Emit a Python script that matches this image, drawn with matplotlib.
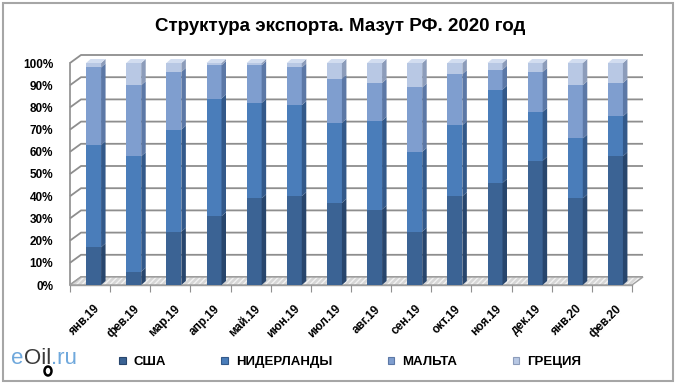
import matplotlib
matplotlib.use('Agg')
import matplotlib.pyplot as plt
import numpy as np
from matplotlib.patches import Polygon, Rectangle, Ellipse

# ---- data ----
categories = ['янв.19', 'фев.19', 'мар.19', 'апр.19', 'май.19', 'июн.19', 'июл.19',
              'авг.19', 'сен.19', 'окт.19', 'ноя.19', 'дек.19', 'янв.20', 'фев.20']
usa = [17, 6, 24, 31, 39, 40, 37, 34, 24, 40, 46, 56, 39, 58]
nld = [46, 52, 46, 53, 43, 41, 36, 40, 36, 32, 42, 22, 27, 18]
mlt = [35, 32, 26, 15, 17, 17, 20, 17, 29, 23, 9, 18, 24, 15]
grc = [2, 10, 4, 1, 1, 2, 7, 9, 11, 5, 3, 4, 10, 9]
series_names = ['США', 'НИДЕРЛАНДЫ', 'МАЛЬТА', 'ГРЕЦИЯ']
yticks = [0, 10, 20, 30, 40, 50, 60, 70, 80, 90, 100]
title = 'Структура экспорта. Мазут РФ. 2020 год'

# ---- style ----
FONT = ['Liberation Sans Narrow', 'Liberation Sans', 'DejaVu Sans']
plt.rcParams['font.family'] = FONT
front = ['#3B6394', '#4A7DBA', '#7F9ECF', '#B8C8E4']
side = ['#28466D', '#33598A', '#5C78A6', '#8C9CBA']
topc = ['#5A7FAE', '#6F97CB', '#A3BADF', '#D2DDF0']

W_PX, H_PX = 680, 384
fig = plt.figure(figsize=(W_PX / 100, H_PX / 100), dpi=100)
ax_l, ax_r, ax_b, ax_t = 70, 632, 285, 63
ax = fig.add_axes([ax_l / W_PX, (H_PX - ax_b) / H_PX, (ax_r - ax_l) / W_PX, (ax_b - ax_t) / H_PX])
n = len(categories)
ax.set_xlim(-0.5, n - 0.5)
ax.set_ylim(0, 100)
px_x = n / (ax_r - ax_l)
px_y = 100 / (ax_b - ax_t)

wdx, wdy = 11 * px_x, 8 * px_y      # wall depth
bdx, bdy = 4.5 * px_x, 4 * px_y     # bar depth
bw = 15 * px_x
x = np.arange(n) + 3.5 * px_x
xmin, xmax = -0.5, n - 0.5

# floor
floor = [(xmin, 0), (xmax, 0), (xmax + wdx, wdy), (xmin + wdx, wdy)]
ax.add_patch(Polygon(floor, closed=True, facecolor='#d6d6d6', edgecolor='none', zorder=1, clip_on=False))
ax.add_patch(Polygon(floor, closed=True, fill=False, hatch='//////', edgecolor='#f2f2f2', lw=0, zorder=1.1, clip_on=False))
ax.add_patch(Polygon(floor, closed=True, fill=False, edgecolor='#a0a0a0', lw=1, zorder=1.2, clip_on=False))

# gridlines on back wall
for v in yticks:
    ax.plot([xmin, xmin + wdx, xmax + wdx], [v + 0, v + wdy, v + wdy], color='#8e8e8e', lw=1.3,
            clip_on=False, zorder=0.5, solid_capstyle='butt')
ax.plot([xmin, xmin], [0, 100], color='#8e8e8e', lw=1.2, clip_on=False, zorder=0.6)
ax.plot([xmin, xmax], [0, 0], color='#a0a0a0', lw=1, clip_on=False, zorder=1.3)

# bars
data = [usa, nld, mlt, grc]
bottom = np.zeros(n)
for k, vals in enumerate(data):
    vals = np.array(vals, dtype=float)
    ax.bar(x, vals, width=bw, bottom=bottom, color=front[k], linewidth=0, zorder=3,
           label=series_names[k])
    for i in range(n):
        xr = x[i] + bw / 2
        b, t = bottom[i], bottom[i] + vals[i]
        ax.add_patch(Polygon([(xr, b), (xr + bdx, b + bdy), (xr + bdx, t + bdy), (xr, t)],
                             closed=True, facecolor=side[k], edgecolor='none', zorder=3, clip_on=False))
        if k == len(data) - 1:
            xl = x[i] - bw / 2
            ax.add_patch(Polygon([(xl, t), (xr, t), (xr + bdx, t + bdy), (xl + bdx, t + bdy)],
                                 closed=True, facecolor=topc[k], edgecolor='none', zorder=3, clip_on=False))
    bottom = bottom + vals

for s in ax.spines.values():
    s.set_visible(False)
ax.set_yticks(yticks)
ax.set_yticklabels([f'{v}%' for v in yticks], fontsize=8.5, fontweight='bold')
ax.tick_params(axis='y', length=0, pad=12)

ax.set_xticks(np.arange(-0.5, n, 1.0))
ax.set_xticklabels([])
ax.tick_params(axis='x', which='major', length=5, color='#909090', direction='out', pad=0)
ax.set_xticks(x, minor=True)
ax.set_xticklabels(categories, minor=True, rotation=45, ha='right', rotation_mode='anchor',
                   fontsize=8.5, fontweight='bold')
ax.tick_params(axis='x', which='minor', length=0, pad=13)

# title
fig.text(340 / W_PX, 1 - 31 / H_PX, title, ha='center', va='baseline', fontsize=13.5, fontweight='bold')

# legend
handles, labels = ax.get_legend_handles_labels()
leg = fig.legend(handles, labels, loc='center', bbox_to_anchor=(350 / W_PX, 1 - 362 / H_PX), ncol=4,
                 frameon=False, prop={'size': 9.5, 'weight': 'bold', 'family': FONT},
                 handlelength=0.5, handleheight=0.5, handletextpad=0.6, columnspacing=4.2)
for p, c in zip(leg.get_patches(), side):
    p.set_edgecolor(c)
    p.set_linewidth(0.8)

# logo
logo_y = 1 - 364 / H_PX
fig.text(11 / W_PX, logo_y, 'e', color='#6FA8DC', fontsize=16, va='baseline', ha='left',
         family=['Liberation Sans'])
fig.text(24 / W_PX, logo_y, 'Oil', color='#3A3A3A', fontsize=16, va='baseline', ha='left',
         family=['Liberation Sans'])
fig.text(51 / W_PX, logo_y, '.ru', color='#6FA8DC', fontsize=16, va='baseline', ha='left',
         family=['Liberation Sans'])
fig.patches.append(Ellipse((48 / W_PX, 1 - 371 / H_PX), 7 / W_PX, 9 / H_PX, transform=fig.transFigure,
                           facecolor='white', edgecolor='black', lw=1.8))

# border
fig.patches.append(Rectangle((3 / W_PX, 3 / H_PX), 670 / W_PX, 378 / H_PX, transform=fig.transFigure,
                             fill=False, edgecolor='#a6a6a6', lw=1.5))

fig.savefig('out.png', dpi=100)
